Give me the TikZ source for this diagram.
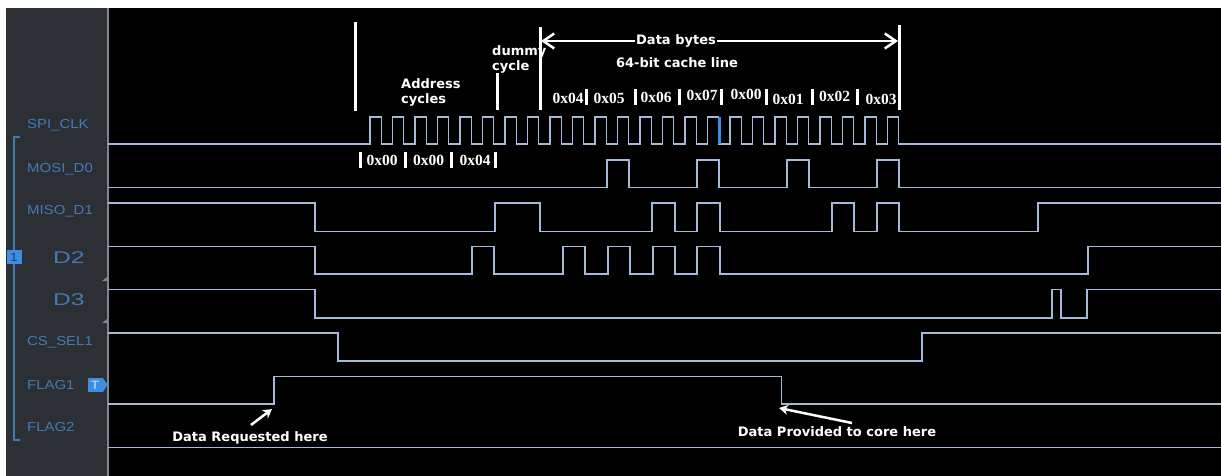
\documentclass[tikz,border=0pt]{standalone}
\usepackage{fontspec}
\usetikzlibrary{arrows.meta}
\newfontfamily\annofont{DejaVu Sans}
\newfontfamily\hexfont{Liberation Serif}
\newfontfamily\panelfont[FakeStretch=1.15]{Liberation Sans}
\newfontfamily\bigpanelfont[FakeStretch=1.45]{Liberation Sans}
\definecolor{panelgray}{HTML}{2C2F34}
\definecolor{paneledge}{HTML}{80858C}
\definecolor{labelblue}{HTML}{4479B6}
\definecolor{tagblue}{HTML}{3E8EE0}
\definecolor{tagtext}{HTML}{1C3F6A}
\definecolor{wave}{HTML}{A3BAD9}
\definecolor{cursor}{HTML}{3D8BE0}

\tikzset{
	sig/.style={draw=wave, line width=1.4pt, line join=miter},
	marker/.style={draw=white, line width=3pt},
	anno/.style={text=white, font={\annofont\bfseries\fontsize{13}{15}\selectfont}, inner sep=1pt},
	hexlbl/.style={text=white, font={\hexfont\bfseries\fontsize{15.5}{17}\selectfont}, inner sep=0pt},
	chlbl/.style={text=labelblue, font={\panelfont\fontsize{13}{15}\selectfont}, anchor=west, inner sep=0pt},
	bigchlbl/.style={text=labelblue, font={\bigpanelfont\fontsize{17}{19}\selectfont}, anchor=west, inner sep=0pt},
	tag/.style={fill=tagblue, text=tagtext, font={\panelfont\fontsize{12}{14}\selectfont}, minimum width=15pt, minimum height=14pt, inner sep=0pt},
	barbs/.style={white, line width=2.5pt, {Straight Barb[length=11pt,width=15pt]}-{Straight Barb[length=11pt,width=15pt]}},
	pointer/.style={white, line width=2.5pt, -{Stealth[length=9pt,width=10pt]}}
}

\begin{document}
\begin{tikzpicture}[x=1pt, y=-1pt]
	\useasboundingbox (0,0) rectangle (1221,476);
	% screen background
	\fill[white] (0,0) rectangle (1221,476);
	\fill[black] (108,8) rectangle (1221,476);
	\fill[panelgray] (6,8) rectangle (108,476);
	\draw[paneledge, line width=1.2pt] (108,8) -- (108,476);

	% channel names
	\node[chlbl] (clk) at (27,125) {SPI\_CLK};
	\node[chlbl] (mosi) at (27,169) {MOSI\_D0};
	\node[chlbl] (miso) at (27,211) {MISO\_D1};
	\node[bigchlbl] (dtwo) at (53,258) {D2};
	\node[bigchlbl] (dthree) at (53,300) {D3};
	\node[chlbl] (cs) at (27,342) {CS\_SEL1};
	\node[chlbl] (flagone) at (27,385) {FLAG1};
	\node[chlbl] (flagtwo) at (27,427) {FLAG2};
	\draw[labelblue, line width=1.2pt] (20,137) -- (14,137) -- (14,440) -- (20,440);
	\node[tag] (chtag) at (14,257) {1};
	\node[tag, text=white!75!tagblue] (trig) at (95,385) {T};
	\fill[tagblue] (trig.north east) -- ++(5,7) -- (trig.south east) -- cycle;
	\fill[paneledge] (102,281) -- (107,277) -- (107,281) -- cycle;
	\fill[paneledge] (102,323) -- (107,319) -- (107,323) -- cycle;

	% waveforms
	\draw[sig] (108,144) \foreach \k in {0,...,23} { -- ({370+22.5*\k},144) -- ({370+22.5*\k},117) -- ({381.25+22.5*\k},117) -- ({381.25+22.5*\k},144) } -- (1221,144);
	\draw[cursor, line width=3pt] (719,117) -- (719,144);
	\draw[sig] (108,187.5) \foreach \a/\b in {607/629,697/719,787/809,877/899} { -- (\a,187.5) -- (\a,160) -- (\b,160) -- (\b,187.5) } -- (1221,187.5);
	\draw[sig] (108,203) -- (315,203) -- (315,231.5) \foreach \a/\b in {495/540,652/675,697/720,832/854,877/899} { -- (\a,231.5) -- (\a,203) -- (\b,203) -- (\b,231.5) } -- (1038,231.5) -- (1038,203) -- (1221,203);
	\draw[sig] (108,246.5) -- (315,246.5) -- (315,274) \foreach \a/\b in {472/494,563/585,608/630,653/675,697/720} { -- (\a,274) -- (\a,246.5) -- (\b,246.5) -- (\b,274) } -- (1088,274) -- (1088,246.5) -- (1221,246.5);
	\draw[sig] (108,289.5) -- (315,289.5) -- (315,318) -- (1052,318) -- (1052,289.5) -- (1061,289.5) -- (1061,318) -- (1087,318) -- (1087,289.5) -- (1221,289.5);
	\draw[sig] (108,333) -- (338,333) -- (338,361) -- (922,361) -- (922,333) -- (1221,333);
	\draw[sig] (108,404) -- (274,404) -- (274,376.5) -- (781.5,376.5) -- (781.5,404) -- (1221,404);
	\draw[sig] (108,447.5) -- (1221,447.5);

	% cycle markers
	\draw[marker] (355,22) -- (355,111);
	\draw[marker] (497,73) -- (497,110);
	\draw[marker] (540,27) -- (540,110);
	\draw[marker] (899,25) -- (899,110);
	\node[anno, align=left, anchor=west] (addr) at (400,92.5) {Address\\cycles};
	\node[anno, align=left, anchor=west] (dummy) at (491,59.5) {dummy\\cycle};
	\coordinate (bytesL) at (541,41);
	\coordinate (bytesR) at (898,41);
	\draw[barbs] (bytesL) -- (bytesR);
	\node[anno, fill=black] (bytes) at (676,41) {Data bytes};
	\node[anno] (cache) at (677,63) {64-bit cache line};

	% byte values
	\foreach \px/\py/\t [count=\i] in {568/98/0x04, 609/98/0x05, 656/97/0x06, 702/95/0x07, 746/94/0x00, 788/99/0x01, 834.5/96/0x02, 881/99/0x03}
		\node[hexlbl] (data\i) at (\px,\py) {\t};
	\foreach \bx in {586.7,635,679,721,766,812,857}
		\fill[white] (\bx-1.5,89) rectangle (\bx+1.5,105);
	\foreach \px/\t [count=\i] in {382/0x00, 428.5/0x00, 475/0x04}
		\node[hexlbl] (adr\i) at (\px,160) {\t};
	\foreach \bx in {360,405,451,495}
		\fill[white] (\bx-1.5,152) rectangle (\bx+1.5,168);

	% flag notes
	\node[anno] (req) at (250,438) {Data Requested here};
	\coordinate (reqtail) at (251,425);
	\coordinate (reqtip) at (272,409);
	\draw[pointer] (reqtail) -- (reqtip);
	\node[anno] (prov) at (837,432) {Data Provided to core here};
	\coordinate (provtail) at (852,423);
	\coordinate (provtip) at (779,408);
	\draw[pointer] (provtail) -- (provtip);
\end{tikzpicture}
\end{document}
